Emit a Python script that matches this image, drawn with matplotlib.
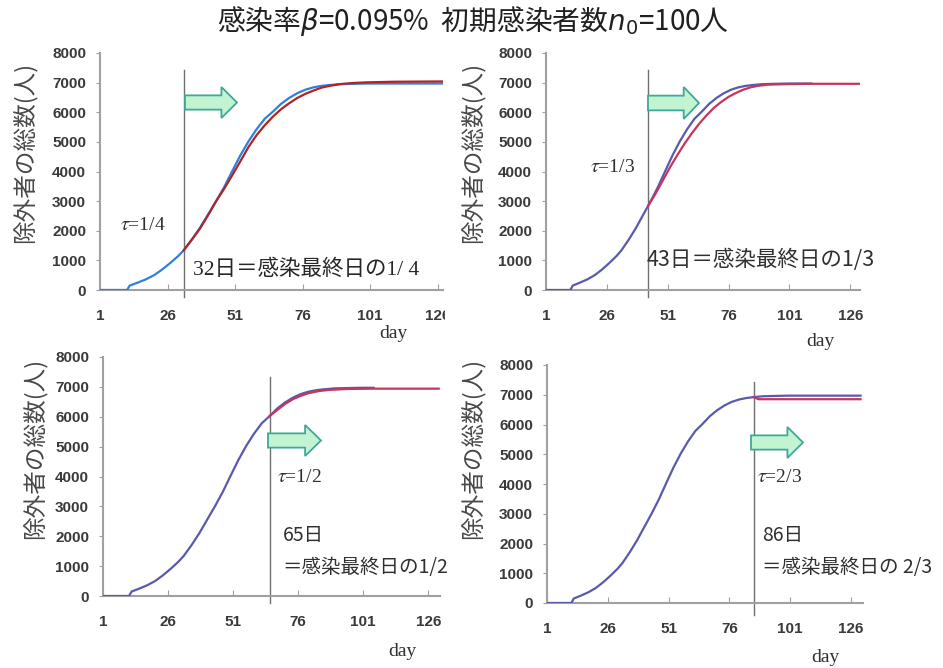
import matplotlib
matplotlib.use('Agg')
import matplotlib.pyplot as plt
from matplotlib.patches import Polygon
from matplotlib.transforms import Bbox

plt.rcParams['font.family'] = ['Noto Sans CJK JP', 'DejaVu Sans']

W, H = 943, 668   # figure size in pixels

# ---- data ----
base_day = [1, 10, 11, 12, 15, 18, 21, 24, 27, 30, 32, 35, 38, 41, 43, 44, 47, 50,
            53, 56, 59, 62, 65, 68, 71, 74, 77, 80, 83, 86, 90, 95, 100, 105, 110,
            120, 130]
base_total = [0, 0, 0, 150, 250, 360, 500, 690, 910, 1150, 1340, 1700, 2100, 2550,
              2850, 3000, 3480, 4020, 4550, 5020, 5430, 5780, 6020, 6280, 6480, 6640,
              6760, 6840, 6890, 6920, 6950, 6960, 6970, 6970, 6970, 6970, 6970]

red1_day = [32, 35, 38, 41, 44, 47, 50, 53, 56, 59, 62, 65, 68, 71, 74, 77, 80, 83,
            86, 90, 95, 100, 110, 128]
red1_total = [1340, 1700, 2070, 2520, 3000, 3420, 3880, 4350, 4830, 5230, 5560, 5850,
              6100, 6300, 6480, 6620, 6730, 6830, 6890, 6950, 6990, 7010, 7030, 7040]

red2_day = [43, 46, 49, 52, 55, 58, 61, 64, 67, 70, 73, 76, 79, 82, 85, 88, 92, 100,
            110, 130]
red2_total = [2850, 3250, 3700, 4150, 4560, 4950, 5300, 5620, 5900, 6150, 6350, 6520,
              6650, 6760, 6840, 6890, 6930, 6950, 6960, 6960]

red3_day = [65, 68, 71, 74, 77, 80, 84, 88, 95, 105, 130]
red3_total = [6020, 6230, 6430, 6590, 6700, 6790, 6860, 6900, 6930, 6940, 6940]

red4_day = [86, 88, 130]
red4_total = [6920, 6850, 6850]

tau_day = [32, 43, 65, 86]
tau_text = ['1/4', '1/3', '1/2', '2/3']
blue_end = [130, 110, 105, 130]

x_ticks = [1, 26, 51, 76, 101, 126]
y_ticks = [0, 1000, 2000, 3000, 4000, 5000, 6000, 7000, 8000]

title = r'感染率$\beta$=0.095%  初期感染者数$n_0$=100人'
ylabel = '除外者の総数(人)'

reds = [(red1_day, red1_total), (red2_day, red2_total),
        (red3_day, red3_total), (red4_day, red4_total)]


def fx(x):
    return x / W


def fy(y):
    return 1 - y / H


# layout in pixels: left, right, y of 0, y of 8000, xmax
boxes = [(100, 443, 290, 53, 128), (546, 860, 290, 53, 130),
         (103, 440, 596, 357, 130.5), (547, 863, 603, 365, 131)]
vline_px = [(70, 297), (70, 297), (377, 603), (382, 615)]
arrow_px = [(185, 87, 237, 118), (648, 87, 699, 119),
            (268, 425, 321, 456), (751, 427, 803, 458)]
ylabel_px = [(25, 152), (473, 152), (35, 448), (473, 448)]
day_px = [(393, 333), (820, 342), (402, 652), (825, 658)]
colors = [('#2f80dc', '#b02428'), ('#5a5aac', '#c8345c'),
          ('#5a5aac', '#c8345c'), ('#5a5aac', '#c8345c')]

fig = plt.figure(figsize=(W / 100, H / 100), dpi=100)

for i in range(4):
    l, r, b, t, xmax = boxes[i]
    ax = fig.add_axes([fx(l), fy(b), (r - l) / W, (b - t) / H])
    c_blue, c_red = colors[i]

    bd = [d for d in base_day if d <= blue_end[i]]
    ax.plot(bd, base_total[:len(bd)], color=c_blue, lw=1.6, zorder=3)
    ax.plot(reds[i][0], reds[i][1], color=c_red, lw=1.6, zorder=3)

    ax.set_xlim(1, xmax)
    ax.set_ylim(0, 8000)
    ax.set_xticks(x_ticks)
    ax.set_yticks(y_ticks)
    for s in ['top', 'right']:
        ax.spines[s].set_visible(False)
    for s in ['left', 'bottom']:
        ax.spines[s].set_color('#a0a0a0')
        ax.spines[s].set_linewidth(1.5)
    ax.tick_params(axis='x', direction='in', length=4, color='#a0a0a0', pad=14,
                   labelsize=11, labelcolor='#3a3a3a')
    ax.tick_params(axis='y', direction='out', length=3, color='#a0a0a0', pad=7,
                   labelsize=11, labelcolor='#3a3a3a')
    for lbl in ax.get_xticklabels() + ax.get_yticklabels():
        lbl.set_fontfamily('Liberation Sans')
        lbl.set_fontweight('bold')
    if i == 0:
        for lbl in ax.get_xticklabels():
            lbl.set_clip_on(True)
            lbl.set_clip_box(Bbox.from_extents(0, 0, 445, H))

    # tau line
    vt, vb = vline_px[i]
    ax.axvline(tau_day[i], ymin=(b - vb) / (b - t), ymax=(b - vt) / (b - t),
               color='#707070', lw=1, clip_on=False, zorder=2)

    # block arrow
    x0, y0, x1, y1 = arrow_px[i]
    w, h = x1 - x0, y1 - y0
    pts = [(x0, y0 + 0.27 * h), (x0 + 0.7 * w, y0 + 0.27 * h), (x0 + 0.7 * w, y0),
           (x1, y0 + 0.5 * h), (x0 + 0.7 * w, y1), (x0 + 0.7 * w, y0 + 0.73 * h),
           (x0, y0 + 0.73 * h)]
    fig.patches.append(Polygon([(fx(px), fy(py)) for px, py in pts], closed=True,
                               transform=fig.transFigure, facecolor='#c2f4d2',
                               edgecolor='#3fa89c', lw=1.3))

    yx, yy = ylabel_px[i]
    fig.text(fx(yx), fy(yy), ylabel, rotation=90, ha='center', va='center',
             fontsize=17, color='#484848')
    dx, dy = day_px[i]
    fig.text(fx(dx), fy(dy), 'day', ha='center', va='center', fontsize=14,
             family='Liberation Serif', color='#303030')

# tau labels and notes
tau_pos = [(120, 225), (590, 168), (277, 477), (757, 478)]
for (tx, ty), tt in zip(tau_pos, tau_text):
    fig.text(fx(tx), fy(ty), r'$\tau$=' + tt, ha='left', va='center', fontsize=14,
             family='Liberation Serif', math_fontfamily='stix', color='#303030')

fig.text(fx(193), fy(270), '32日＝感染最終日の1/ 4', ha='left', va='center',
         fontsize=15.5, family=['Liberation Serif', 'Noto Sans CJK JP'],
         color='#262626')
fig.text(fx(647), fy(260), '43日＝感染最終日の1/3', ha='left', va='center',
         fontsize=15.5, color='#303030')
fig.text(fx(283), fy(535), '65日', ha='left', va='center', fontsize=14, color='#303030')
fig.text(fx(282), fy(567), '＝感染最終日の1/2', ha='left', va='center', fontsize=14,
         color='#303030')
fig.text(fx(762), fy(535), '86日', ha='left', va='center', fontsize=14, color='#303030')
fig.text(fx(762), fy(568), '＝感染最終日の 2/3', ha='left', va='center', fontsize=14,
         color='#303030')

fig.text(fx(473), fy(21), title, ha='center', va='center', fontsize=20,
         color='#202020', math_fontfamily='dejavusans')

fig.savefig('out.png', dpi=100)
